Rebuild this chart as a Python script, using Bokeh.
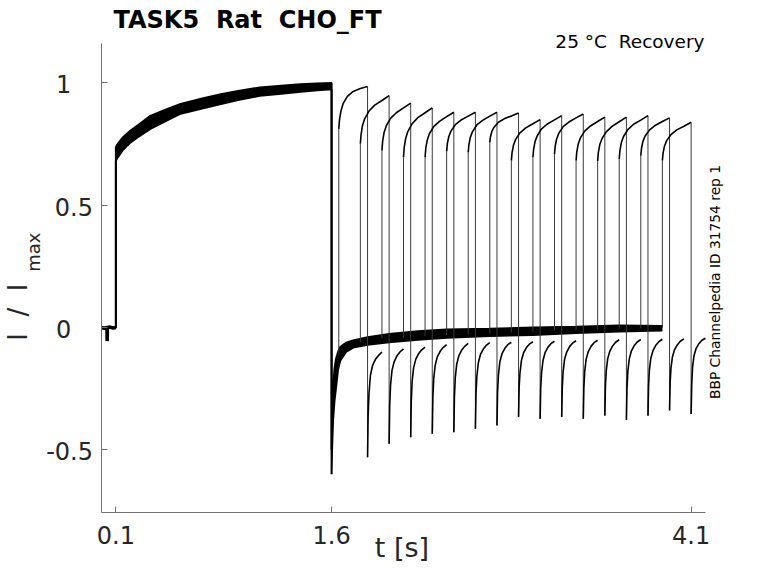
import math
from bokeh.plotting import figure
from bokeh.models import Label, FixedTicker, CustomJSTickFormatter
from bokeh.embed import file_html
from bokeh.resources import INLINE

# ---------------- data ----------------
x_lim = (0.0, 4.2)
y_lim = (-0.756, 1.161)

x_ticks = [0.1, 1.6, 4.1]
x_tick_labels = ["0.1", "1.6", "4.1"]
y_ticks = [-0.5, 0, 0.5, 1]
y_tick_labels = ["-0.5", "0", "0.5", "1"]

NB = "\u00a0"
title_text = "TASK5" + NB * 2 + "Rat" + NB * 2 + "CHO_FT"
cond_text = "25 °C" + NB * 2 + "Recovery"
side_text = "BBP Channelpedia ID 31754 rep 1"
x_label_text = "t [s]"
y_label_main = "I" + NB * 2 + "/" + NB * 2 + "I"
y_label_sub = "max"

# holding before the first pulse
t_pre = [0.0, 0.02, 0.038, 0.039, 0.040, 0.041, 0.06, 0.08, 0.1]
i_pre = [0.0, -0.003, 0.0, -0.055, -0.05, 0.0, 0.002, -0.002, 0.0]

# first (conditioning) pulse: envelope of the overlaid sweeps
t_p1 = [0.1, 0.11, 0.125, 0.15, 0.2, 0.25, 0.34, 0.45, 0.55, 0.7, 0.83, 0.95,
        1.1, 1.25, 1.385, 1.5, 1.6]
p1_upper = [0.737, 0.748, 0.760, 0.778, 0.804, 0.826, 0.865, 0.892, 0.914, 0.936,
            0.954, 0.967, 0.981, 0.988, 0.994, 0.998, 1.0]
p1_lower = [0.682, 0.693, 0.705, 0.727, 0.756, 0.777, 0.812, 0.845, 0.874, 0.895,
            0.914, 0.930, 0.947, 0.956, 0.964, 0.970, 0.974]

# tail / recovery baseline after the first pulse
t_tail1 = [1.6, 1.603, 1.61, 1.62, 1.63, 1.645, 1.66, 1.7, 1.75, 1.85, 2.0, 2.2,
           2.4, 2.7, 3.0, 3.3, 3.6, 3.9]
base_upper = [-0.50, -0.40, -0.25, -0.17, -0.13, -0.10, -0.08, -0.062, -0.053,
              -0.04, -0.026, -0.015, -0.008, -0.005, 0.0, 0.003, 0.008, 0.006]
base_lower = [-0.60, -0.50, -0.38, -0.30, -0.25, -0.17, -0.135, -0.10, -0.082,
              -0.07, -0.06, -0.05, -0.042, -0.035, -0.03, -0.022, -0.016, -0.012]

# second (test) pulses, one per sweep
rec_start = [1.65, 1.80, 1.95, 2.10, 2.25, 2.40, 2.55, 2.70, 2.85, 3.00, 3.15,
             3.30, 3.45, 3.60, 3.75, 3.90]
base_at_start = [-0.11, -0.06, -0.045, -0.04, -0.035, -0.03, -0.027, -0.024,
                 -0.02, -0.017, -0.013, -0.01, -0.008, -0.005, -0.004, -0.003]
p2_offsets = [0.0, 0.005, 0.015, 0.03, 0.06, 0.1, 0.15, 0.2]
p2_values = [
    [0.812, 0.850, 0.885, 0.915, 0.945, 0.965, 0.977, 0.985],
    [0.751, 0.790, 0.826, 0.853, 0.885, 0.909, 0.928, 0.948],
    [0.723, 0.762, 0.797, 0.824, 0.855, 0.878, 0.898, 0.917],
    [0.696, 0.736, 0.773, 0.801, 0.833, 0.858, 0.878, 0.898],
    [0.696, 0.733, 0.766, 0.792, 0.821, 0.843, 0.862, 0.880],
    [0.720, 0.752, 0.781, 0.803, 0.829, 0.848, 0.864, 0.880],
    [0.716, 0.749, 0.778, 0.801, 0.828, 0.847, 0.864, 0.880],
    [0.757, 0.781, 0.803, 0.819, 0.839, 0.853, 0.865, 0.877],
    [0.682, 0.716, 0.746, 0.769, 0.796, 0.816, 0.833, 0.850],
    [0.696, 0.730, 0.761, 0.784, 0.812, 0.832, 0.849, 0.866],
    [0.709, 0.742, 0.771, 0.794, 0.821, 0.840, 0.857, 0.873],
    [0.682, 0.718, 0.750, 0.775, 0.803, 0.824, 0.842, 0.860],
    [0.680, 0.716, 0.748, 0.772, 0.800, 0.822, 0.841, 0.860],
    [0.689, 0.724, 0.756, 0.781, 0.809, 0.831, 0.848, 0.866],
    [0.702, 0.733, 0.761, 0.783, 0.807, 0.826, 0.842, 0.857],
    [0.682, 0.713, 0.742, 0.764, 0.789, 0.808, 0.823, 0.839],
]
p2_duration = 0.2
tail_offsets = [0.0, 0.004, 0.01, 0.02, 0.035, 0.055, 0.075, 0.1]
tail_values = [
    [-0.530, -0.36, -0.27, -0.195, -0.155, -0.13, -0.115, -0.10],
    [-0.475, -0.32, -0.235, -0.175, -0.14, -0.115, -0.10, -0.087],
    [-0.448, -0.30, -0.22, -0.165, -0.13, -0.107, -0.092, -0.08],
    [-0.434, -0.29, -0.21, -0.155, -0.12, -0.097, -0.082, -0.07],
    [-0.428, -0.285, -0.205, -0.15, -0.115, -0.092, -0.077, -0.065],
    [-0.414, -0.275, -0.20, -0.145, -0.11, -0.088, -0.073, -0.062],
    [-0.400, -0.265, -0.195, -0.14, -0.107, -0.085, -0.07, -0.06],
    [-0.366, -0.245, -0.185, -0.135, -0.103, -0.082, -0.068, -0.058],
    [-0.373, -0.25, -0.185, -0.135, -0.102, -0.08, -0.066, -0.056],
    [-0.366, -0.245, -0.18, -0.13, -0.10, -0.078, -0.064, -0.054],
    [-0.373, -0.25, -0.18, -0.13, -0.098, -0.076, -0.062, -0.052],
    [-0.360, -0.24, -0.175, -0.127, -0.096, -0.074, -0.06, -0.05],
    [-0.377, -0.25, -0.178, -0.128, -0.095, -0.073, -0.059, -0.049],
    [-0.360, -0.24, -0.172, -0.125, -0.094, -0.072, -0.058, -0.048],
    [-0.339, -0.225, -0.165, -0.12, -0.09, -0.07, -0.056, -0.046],
    [-0.353, -0.235, -0.162, -0.115, -0.085, -0.065, -0.052, -0.044],
]

# ---------------- layout ----------------
W, H = 762, 567                       # canvas size
FL, FR, FT, FB = 101, 705, 43, 512    # axes box in picture pixels
FONT = "DejaVu Sans"
TXT = "#262626"
AX = "#707070"
BASE_SHIFT = 0.3                      # em correction of the text baseline

# the plotting frame covers the whole canvas; the axes are drawn at fixed
# data locations so that texts around them are not clipped away
sx = (FR - FL) / (x_lim[1] - x_lim[0])
sy = (FB - FT) / (y_lim[1] - y_lim[0])
view_x = (x_lim[0] - FL / sx, x_lim[1] + (W - FR) / sx)
view_y = (y_lim[0] - (H - FB) / sy, y_lim[1] + FT / sy)


def tx(xp):
    return view_x[0] + xp / sx


def ty(yp):
    return view_y[1] - yp / sy


p = figure(frame_width=W, frame_height=H, x_range=view_x, y_range=view_y,
           output_backend="svg", toolbar_location=None, title=None,
           min_border=0)
p.outline_line_color = None
p.grid.visible = False
p.background_fill_color = "white"
p.border_fill_color = "white"

for ax, ticks, loc, bnd in ((p.xaxis, x_ticks, y_lim[0], x_lim),
                            (p.yaxis, y_ticks, x_lim[0], y_lim)):
    ax.ticker = FixedTicker(ticks=ticks)
    ax.formatter = CustomJSTickFormatter(code="return ''")
    ax.fixed_location = loc
    ax.bounds = bnd
    ax.major_label_text_font_size = "0px"
    ax.major_label_standoff = 0
    ax.major_tick_in = 6
    ax.major_tick_out = 0
    ax.minor_tick_in = 0
    ax.minor_tick_out = 0
    ax.axis_line_color = AX
    ax.major_tick_line_color = AX
    ax.axis_line_width = 1

# ---------------- traces ----------------
p.varea(x=t_p1, y1=p1_lower, y2=p1_upper, color="black")
p.varea(x=t_tail1, y1=base_lower, y2=base_upper, color="black")
full_t = t_pre + t_p1 + t_tail1
p.line(full_t, i_pre + p1_upper + base_upper, line_width=2, color="black")
p.line(full_t, i_pre + p1_lower + base_lower, line_width=2, color="black")
p.line(t_pre, i_pre, line_width=3.5, color="black")

xs_p2 = [[s + o for o in p2_offsets] for s in rec_start]
ends = [s + p2_duration for s in rec_start]
xs_tail = [[e + o for o in tail_offsets] for e in ends]
p.segment(x0=rec_start, y0=base_at_start, x1=rec_start,
          y1=[v[0] for v in p2_values], line_width=1, color="#3a3a3a")
p.segment(x0=ends, y0=[v[-1] for v in p2_values], x1=ends,
          y1=[v[0] for v in tail_values], line_width=1, color="#3a3a3a")
p.multi_line(xs_p2, p2_values, line_width=1.6, color="black")
p.multi_line(xs_tail, tail_values, line_width=1.6, color="black")


# ---------------- texts ----------------
def add_label(xp, yp, text, size, rotated=False, **kw):
    shift = BASE_SHIFT * size
    if rotated:
        xp -= shift
        kw["angle"] = math.pi / 2
    else:
        yp -= shift
    opts = dict(text_font=FONT, text_font_size=f"{size}px", text_color=TXT,
                text_align="center", text_baseline="alphabetic")
    opts.update(kw)
    p.add_layout(Label(x=tx(xp), y=ty(yp), text=text, **opts))


def px_x(v):
    return FL + (v - x_lim[0]) * sx


def px_y(v):
    return FT + (y_lim[1] - v) * sy


for v, lab in zip(y_ticks, y_tick_labels):
    xr = 92.5 if "." in lab else 70.8
    add_label(xr, px_y(v) + 8.6, lab, 24, text_align="right")
for v, lab in zip(x_ticks, x_tick_labels):
    add_label(px_x(v), 542, lab, 24)

add_label(113, 26.7, title_text, 24, text_align="left",
          text_font_style="bold", text_color="black")
add_label(704, 46.7, cond_text, 18.5, text_align="right", text_color="black")
add_label(718.4, 281.5, side_text, 13.8, rotated=True, text_color="black")
add_label(401.5, 555, x_label_text, 27)
add_label(25, 311.7, y_label_main, 26, rotated=True)
add_label(38, 251.7, y_label_sub, 18, rotated=True)

open("out.html", "w").write(file_html(p, INLINE))
